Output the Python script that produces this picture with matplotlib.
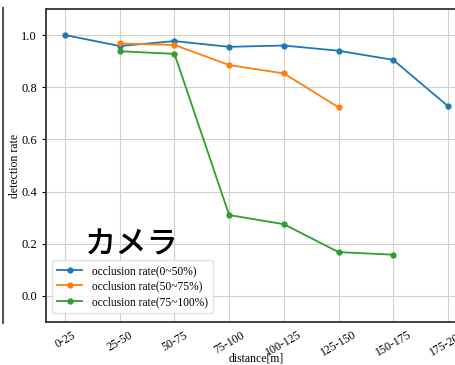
import numpy as np
import matplotlib.pyplot as plt
from matplotlib.lines import Line2D

# distance bins and detection rate for each occlusion range
bins = ['0-25', '25-50', '50-75', '75-100', '100-125', '125-150', '150-175', '175-200']
rate_low = [1.0, 0.958, 0.977, 0.955, 0.960, 0.940, 0.905, 0.728]
rate_mid = [0.968, 0.962, 0.885, 0.853, 0.723]
rate_high = [0.938, 0.928, 0.310, 0.275, 0.168, 0.158]
labels = ['occlusion rate(0~50%)', 'occlusion rate(50~75%)', 'occlusion rate(75~100%)']

plt.rcParams['font.family'] = ['Liberation Serif', 'DejaVu Serif']

W, H = 455, 365
fig = plt.figure(figsize=(W / 100, H / 100), dpi=100)
ax = fig.add_axes([46 / W, 1 - 322 / H, (467 - 46) / W, (322 - 9) / H])

x = np.arange(len(bins))
ax.plot(x, rate_low, marker='o', ms=3.5, lw=1.3, c='#1f77b4', label=labels[0])
ax.plot(x[1:1 + len(rate_mid)], rate_mid, marker='o', ms=3.5, lw=1.3, c='#ff7f0e', label=labels[1])
ax.plot(x[1:1 + len(rate_high)], rate_high, marker='o', ms=3.5, lw=1.3, c='#2ca02c', label=labels[2])

ax.set_xlim(-0.35, 7.35)
ax.set_ylim(-0.1, 1.1)
ax.set_xticks(x)
ax.set_xticklabels(bins, rotation=30, fontsize=8.5)
ax.set_yticks([0.0, 0.2, 0.4, 0.6, 0.8, 1.0])
ax.tick_params(axis='y', labelsize=9, length=3)
ax.tick_params(axis='x', length=0, pad=5)
ax.grid(True, color='#d0d0d0', lw=0.8)
ax.set_ylabel('detection rate', fontsize=8.5, labelpad=0)
ax.set_xlabel('distance[m]', fontsize=8.5, labelpad=-5)
for s in ax.spines.values():
    s.set_color('#333333')
    s.set_linewidth(1.3)

ax.legend(loc='lower left', bbox_to_anchor=(0.0, 0.01), fontsize=8.3,
          handlelength=2.2, framealpha=0.85, edgecolor='#dddddd', borderpad=0.45,
          labelspacing=0.3)

ax.text(0.093, 0.218, 'カメラ', transform=ax.transAxes, fontsize=22.5,
        fontweight='medium', family=['Noto Sans CJK JP', 'DejaVu Sans'])

# frame edge on the left side
fig.add_artist(Line2D([2.5 / W, 2.5 / W], [1 - 323 / H, 1 - 8 / H], color='#555555', lw=1.5))

fig.savefig('out.png', dpi=100)
